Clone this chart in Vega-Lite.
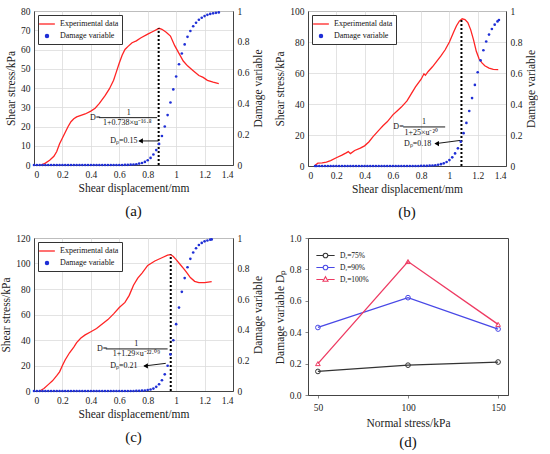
{
  "$schema": "https://vega.github.io/schema/vega-lite/v6.json",
  "background": "white",
  "padding": {"left": 0, "top": 5, "right": 0, "bottom": 0},
  "columns": 2,
  "spacing": {"column": 8, "row": 11},
  "resolve": {
    "scale": {"color": "independent", "shape": "independent"},
    "legend": {"color": "independent", "shape": "independent"}
  },
  "datasets": {
    "a_red": [
      {"x": 0.05, "y": 0}, {"x": 0.08, "y": 1}, {"x": 0.11, "y": 2.5}, {"x": 0.14, "y": 4.5},
      {"x": 0.16, "y": 7}, {"x": 0.18, "y": 11}, {"x": 0.2, "y": 14}, {"x": 0.22, "y": 17},
      {"x": 0.24, "y": 20}, {"x": 0.26, "y": 22.5}, {"x": 0.28, "y": 24}, {"x": 0.3, "y": 25},
      {"x": 0.33, "y": 25.8}, {"x": 0.36, "y": 26.5}, {"x": 0.4, "y": 28}, {"x": 0.43, "y": 29.5},
      {"x": 0.46, "y": 32}, {"x": 0.5, "y": 36}, {"x": 0.53, "y": 39.5}, {"x": 0.56, "y": 44},
      {"x": 0.58, "y": 48.5}, {"x": 0.6, "y": 53}, {"x": 0.62, "y": 57}, {"x": 0.64, "y": 60},
      {"x": 0.66, "y": 61.5}, {"x": 0.69, "y": 63.5}, {"x": 0.72, "y": 64.5}, {"x": 0.75, "y": 66},
      {"x": 0.8, "y": 68}, {"x": 0.84, "y": 69.5}, {"x": 0.88, "y": 71}, {"x": 0.9, "y": 70.5},
      {"x": 0.93, "y": 69}, {"x": 0.96, "y": 67}, {"x": 0.99, "y": 62}, {"x": 1.02, "y": 58},
      {"x": 1.05, "y": 54}, {"x": 1.08, "y": 51.5}, {"x": 1.12, "y": 49}, {"x": 1.16, "y": 46.5},
      {"x": 1.19, "y": 45.5}, {"x": 1.22, "y": 44}, {"x": 1.26, "y": 43}, {"x": 1.3, "y": 42.3}
    ],
    "a_dmg": [
      {"x": 0, "d": 0}, {"x": 0.02, "d": 0}, {"x": 0.04, "d": 0}, {"x": 0.06, "d": 0}, {"x": 0.08, "d": 0},
      {"x": 0.1, "d": 0}, {"x": 0.12, "d": 0}, {"x": 0.14, "d": 0}, {"x": 0.16, "d": 0}, {"x": 0.18, "d": 0},
      {"x": 0.2, "d": 0}, {"x": 0.22, "d": 0}, {"x": 0.24, "d": 0}, {"x": 0.26, "d": 0}, {"x": 0.28, "d": 0},
      {"x": 0.3, "d": 0}, {"x": 0.32, "d": 0}, {"x": 0.34, "d": 0}, {"x": 0.36, "d": 0}, {"x": 0.38, "d": 0},
      {"x": 0.4, "d": 0}, {"x": 0.42, "d": 0}, {"x": 0.44, "d": 0}, {"x": 0.46, "d": 0}, {"x": 0.48, "d": 0},
      {"x": 0.5, "d": 0}, {"x": 0.52, "d": 0}, {"x": 0.54, "d": 0}, {"x": 0.56, "d": 0}, {"x": 0.58, "d": 0},
      {"x": 0.6, "d": 0}, {"x": 0.62, "d": 0}, {"x": 0.64, "d": 0.001}, {"x": 0.66, "d": 0.001}, {"x": 0.68, "d": 0.002},
      {"x": 0.7, "d": 0.003}, {"x": 0.72, "d": 0.005}, {"x": 0.74, "d": 0.009}, {"x": 0.76, "d": 0.013},
      {"x": 0.78, "d": 0.02}, {"x": 0.8, "d": 0.031}, {"x": 0.82, "d": 0.046}, {"x": 0.84, "d": 0.068},
      {"x": 0.86, "d": 0.097}, {"x": 0.88, "d": 0.137}, {"x": 0.9, "d": 0.188}, {"x": 0.92, "d": 0.25},
      {"x": 0.94, "d": 0.324}, {"x": 0.96, "d": 0.406}, {"x": 0.98, "d": 0.491}, {"x": 1.0, "d": 0.575},
      {"x": 1.02, "d": 0.654}, {"x": 1.04, "d": 0.724}, {"x": 1.06, "d": 0.783}, {"x": 1.08, "d": 0.832},
      {"x": 1.1, "d": 0.87}, {"x": 1.12, "d": 0.901}, {"x": 1.14, "d": 0.924}, {"x": 1.16, "d": 0.943},
      {"x": 1.18, "d": 0.956}, {"x": 1.2, "d": 0.967}, {"x": 1.22, "d": 0.975}, {"x": 1.24, "d": 0.981},
      {"x": 1.26, "d": 0.985}, {"x": 1.28, "d": 0.988}, {"x": 1.3, "d": 0.991}
    ],
    "a_txt": [
      {"x": 0.667, "y": 27, "t": "1"},
      {"x": 0.43, "y": 24.3, "t": "D="},
      {"x": 0.656, "y": 21.8, "t": "1+0.738×u⁻¹⁶·⁸"},
      {"x": 0.633, "y": 12.5, "t": "Dₚ=0.15"}
    ],
    "a_rules": [
      {"x": 0.457, "x2": 0.866, "y": 24.6, "y2": 24.6},
      {"x": 0.74, "x2": 0.876, "y": 12.5, "y2": 12.5}
    ],
    "a_head": [{"x": 0.75, "y": 12.5}],
    "a_peak": [{"x": 0.877, "y": 0, "y2": 71}],
    "b_red": [
      {"x": 0.05, "y": 0.5}, {"x": 0.07, "y": 1.8}, {"x": 0.1, "y": 2}, {"x": 0.13, "y": 2.5},
      {"x": 0.16, "y": 3.5}, {"x": 0.2, "y": 5.3}, {"x": 0.24, "y": 7}, {"x": 0.27, "y": 8.5},
      {"x": 0.285, "y": 9.3}, {"x": 0.3, "y": 8}, {"x": 0.33, "y": 10}, {"x": 0.37, "y": 11.5},
      {"x": 0.4, "y": 13}, {"x": 0.43, "y": 15.5}, {"x": 0.46, "y": 19}, {"x": 0.5, "y": 23},
      {"x": 0.53, "y": 26}, {"x": 0.56, "y": 28.5}, {"x": 0.6, "y": 33}, {"x": 0.63, "y": 35.5},
      {"x": 0.66, "y": 38}, {"x": 0.7, "y": 42}, {"x": 0.73, "y": 46.5}, {"x": 0.76, "y": 51},
      {"x": 0.8, "y": 56}, {"x": 0.82, "y": 59.5}, {"x": 0.83, "y": 58.5}, {"x": 0.85, "y": 61},
      {"x": 0.88, "y": 64}, {"x": 0.91, "y": 67.5}, {"x": 0.94, "y": 71}, {"x": 0.97, "y": 75},
      {"x": 1.0, "y": 80}, {"x": 1.03, "y": 86.5}, {"x": 1.05, "y": 90.5}, {"x": 1.07, "y": 93.5},
      {"x": 1.09, "y": 95}, {"x": 1.11, "y": 94.5}, {"x": 1.13, "y": 92.5}, {"x": 1.15, "y": 88},
      {"x": 1.17, "y": 81.5}, {"x": 1.19, "y": 74}, {"x": 1.21, "y": 69}, {"x": 1.23, "y": 66.5},
      {"x": 1.25, "y": 64.7}, {"x": 1.28, "y": 63.2}, {"x": 1.31, "y": 62.3}, {"x": 1.345, "y": 62.2}
    ],
    "b_dmg": [
      {"x": 0.05, "d": 0}, {"x": 0.06, "d": 0}, {"x": 0.08, "d": 0}, {"x": 0.1, "d": 0}, {"x": 0.12, "d": 0},
      {"x": 0.14, "d": 0}, {"x": 0.16, "d": 0}, {"x": 0.18, "d": 0}, {"x": 0.2, "d": 0}, {"x": 0.22, "d": 0},
      {"x": 0.24, "d": 0}, {"x": 0.26, "d": 0}, {"x": 0.28, "d": 0}, {"x": 0.3, "d": 0}, {"x": 0.32, "d": 0},
      {"x": 0.34, "d": 0}, {"x": 0.36, "d": 0}, {"x": 0.38, "d": 0}, {"x": 0.4, "d": 0}, {"x": 0.42, "d": 0},
      {"x": 0.44, "d": 0}, {"x": 0.46, "d": 0}, {"x": 0.48, "d": 0}, {"x": 0.5, "d": 0}, {"x": 0.52, "d": 0},
      {"x": 0.54, "d": 0}, {"x": 0.56, "d": 0}, {"x": 0.58, "d": 0}, {"x": 0.6, "d": 0}, {"x": 0.62, "d": 0},
      {"x": 0.64, "d": 0}, {"x": 0.66, "d": 0}, {"x": 0.68, "d": 0}, {"x": 0.7, "d": 0}, {"x": 0.72, "d": 0},
      {"x": 0.74, "d": 0}, {"x": 0.76, "d": 0}, {"x": 0.78, "d": 0}, {"x": 0.8, "d": 0.001}, {"x": 0.82, "d": 0.001},
      {"x": 0.84, "d": 0.001}, {"x": 0.86, "d": 0.002}, {"x": 0.88, "d": 0.003}, {"x": 0.9, "d": 0.005},
      {"x": 0.92, "d": 0.008}, {"x": 0.94, "d": 0.012}, {"x": 0.96, "d": 0.017}, {"x": 0.98, "d": 0.026},
      {"x": 1.0, "d": 0.038}, {"x": 1.02, "d": 0.056}, {"x": 1.04, "d": 0.081}, {"x": 1.06, "d": 0.114},
      {"x": 1.08, "d": 0.157}, {"x": 1.1, "d": 0.212}, {"x": 1.12, "d": 0.278}, {"x": 1.14, "d": 0.355},
      {"x": 1.16, "d": 0.438}, {"x": 1.18, "d": 0.523}, {"x": 1.2, "d": 0.605}, {"x": 1.22, "d": 0.681},
      {"x": 1.24, "d": 0.747}, {"x": 1.26, "d": 0.803}, {"x": 1.28, "d": 0.848}, {"x": 1.3, "d": 0.884},
      {"x": 1.32, "d": 0.912}, {"x": 1.34, "d": 0.933}, {"x": 1.35, "d": 0.942}
    ],
    "b_txt": [
      {"x": 0.82, "y": 28.6, "t": "1"},
      {"x": 0.64, "y": 25.2, "t": "D="},
      {"x": 0.8, "y": 21.6, "t": "1+25×u⁻²⁰"},
      {"x": 0.775, "y": 14.4, "t": "Dₚ=0.18"}
    ],
    "b_rules": [
      {"x": 0.673, "x2": 0.97, "y": 25.2, "y2": 25.2},
      {"x": 0.9, "x2": 1.075, "y": 14.4, "y2": 16.5}
    ],
    "b_head": [{"x": 0.91, "y": 14.5}],
    "b_peak": [{"x": 1.085, "y": 0, "y2": 95}],
    "c_red": [
      {"x": 0.04, "y": 0}, {"x": 0.07, "y": 2}, {"x": 0.1, "y": 5}, {"x": 0.13, "y": 8},
      {"x": 0.16, "y": 12}, {"x": 0.18, "y": 15}, {"x": 0.2, "y": 20}, {"x": 0.22, "y": 24.5},
      {"x": 0.25, "y": 30}, {"x": 0.28, "y": 34.5}, {"x": 0.3, "y": 38}, {"x": 0.33, "y": 41.5},
      {"x": 0.36, "y": 44}, {"x": 0.4, "y": 46.5}, {"x": 0.44, "y": 49}, {"x": 0.48, "y": 52.5},
      {"x": 0.52, "y": 56}, {"x": 0.56, "y": 60.5}, {"x": 0.6, "y": 65.5}, {"x": 0.64, "y": 69.5},
      {"x": 0.67, "y": 75}, {"x": 0.7, "y": 83}, {"x": 0.73, "y": 88.5}, {"x": 0.76, "y": 92.5},
      {"x": 0.8, "y": 98.5}, {"x": 0.85, "y": 102}, {"x": 0.9, "y": 104.5}, {"x": 0.94, "y": 106.5},
      {"x": 0.96, "y": 107}, {"x": 0.98, "y": 105.5}, {"x": 1.0, "y": 103}, {"x": 1.03, "y": 99},
      {"x": 1.06, "y": 95}, {"x": 1.08, "y": 92}, {"x": 1.1, "y": 89}, {"x": 1.13, "y": 86},
      {"x": 1.16, "y": 85}, {"x": 1.2, "y": 85}, {"x": 1.25, "y": 85.8}
    ],
    "c_dmg": [
      {"x": 0, "d": 0}, {"x": 0.02, "d": 0}, {"x": 0.04, "d": 0}, {"x": 0.06, "d": 0}, {"x": 0.08, "d": 0},
      {"x": 0.1, "d": 0}, {"x": 0.12, "d": 0}, {"x": 0.14, "d": 0}, {"x": 0.16, "d": 0}, {"x": 0.18, "d": 0},
      {"x": 0.2, "d": 0}, {"x": 0.22, "d": 0}, {"x": 0.24, "d": 0}, {"x": 0.26, "d": 0}, {"x": 0.28, "d": 0},
      {"x": 0.3, "d": 0}, {"x": 0.32, "d": 0}, {"x": 0.34, "d": 0}, {"x": 0.36, "d": 0}, {"x": 0.38, "d": 0},
      {"x": 0.4, "d": 0}, {"x": 0.42, "d": 0}, {"x": 0.44, "d": 0}, {"x": 0.46, "d": 0}, {"x": 0.48, "d": 0},
      {"x": 0.5, "d": 0}, {"x": 0.52, "d": 0}, {"x": 0.54, "d": 0}, {"x": 0.56, "d": 0}, {"x": 0.58, "d": 0},
      {"x": 0.6, "d": 0}, {"x": 0.62, "d": 0}, {"x": 0.64, "d": 0}, {"x": 0.66, "d": 0}, {"x": 0.68, "d": 0},
      {"x": 0.7, "d": 0}, {"x": 0.72, "d": 0.001}, {"x": 0.74, "d": 0.001}, {"x": 0.76, "d": 0.002},
      {"x": 0.78, "d": 0.003}, {"x": 0.8, "d": 0.006}, {"x": 0.82, "d": 0.01}, {"x": 0.84, "d": 0.016},
      {"x": 0.86, "d": 0.027}, {"x": 0.88, "d": 0.044}, {"x": 0.9, "d": 0.07}, {"x": 0.92, "d": 0.109},
      {"x": 0.94, "d": 0.165}, {"x": 0.96, "d": 0.239}, {"x": 0.98, "d": 0.332}, {"x": 1.0, "d": 0.437},
      {"x": 1.02, "d": 0.545}, {"x": 1.04, "d": 0.648}, {"x": 1.06, "d": 0.738}, {"x": 1.08, "d": 0.809},
      {"x": 1.1, "d": 0.864}, {"x": 1.12, "d": 0.905}, {"x": 1.14, "d": 0.933}, {"x": 1.16, "d": 0.954},
      {"x": 1.18, "d": 0.968}, {"x": 1.2, "d": 0.978}, {"x": 1.22, "d": 0.984}, {"x": 1.24, "d": 0.989},
      {"x": 1.25, "d": 0.991}
    ],
    "c_txt": [
      {"x": 0.72, "y": 37, "t": "1"},
      {"x": 0.48, "y": 33, "t": "D="},
      {"x": 0.72, "y": 29.3, "t": "1+1.29×u⁻²²·⁰⁹"},
      {"x": 0.633, "y": 19.6, "t": "Dₚ=0.21"}
    ],
    "c_rules": [
      {"x": 0.505, "x2": 0.94, "y": 33, "y2": 33},
      {"x": 0.775, "x2": 0.927, "y": 19.6, "y2": 21.7}
    ],
    "c_head": [{"x": 0.785, "y": 19.7}],
    "c_peak": [{"x": 0.962, "y": 0, "y2": 107}],
    "d_pts": [
      {"s": 50, "d": 0.15, "g": "Dᵣ=75%"}, {"s": 100, "d": 0.19, "g": "Dᵣ=75%"}, {"s": 150, "d": 0.21, "g": "Dᵣ=75%"},
      {"s": 50, "d": 0.43, "g": "Dᵣ=90%"}, {"s": 100, "d": 0.62, "g": "Dᵣ=90%"}, {"s": 150, "d": 0.42, "g": "Dᵣ=90%"},
      {"s": 50, "d": 0.2, "g": "Dᵣ=100%"}, {"s": 100, "d": 0.85, "g": "Dᵣ=100%"}, {"s": 150, "d": 0.45, "g": "Dᵣ=100%"}
    ]
  },
  "concat": [
    {
      "width": 199,
      "height": 154,
      "title": {"text": "(a)"},
      "encoding": {
        "x": {"field": "x", "type": "quantitative", "scale": {"domain": [0, 1.4], "nice": false},
          "axis": {"title": "Shear displacement/mm", "values": [0, 0.2, 0.4, 0.6, 0.8, 1, 1.2, 1.4], "format": "~g", "grid": true, "labelOverlap": false}}
      },
      "layer": [
        {
          "encoding": {
            "y": {"field": "y", "type": "quantitative", "scale": {"domain": [0, 80], "nice": false},
              "axis": {"title": "Shear stress/kPa", "values": [0, 10, 20, 30, 40, 50, 60, 70, 80], "grid": true, "labelOverlap": false}}
          },
          "layer": [
            {
              "data": {"name": "a_red"},
              "mark": {"type": "line", "strokeWidth": 1.3},
              "encoding": {
                "color": {"datum": "Experimental data", "type": "nominal",
                  "scale": {"domain": ["Experimental data", "Damage variable"], "range": ["#ff2424", "#1f2fd6"]},
                  "legend": {"encode": {"symbols": {"update": {
                    "shape": {"signal": "datum.value === 'Damage variable' ? 'circle' : 'M-1.5,0H1.5'"},
                    "size": {"signal": "datum.value === 'Damage variable' ? 10 : 110"},
                    "fill": {"signal": "datum.value === 'Damage variable' ? '#1f2fd6' : 'transparent'"},
                    "stroke": {"signal": "datum.value === 'Damage variable' ? '#1f2fd6' : '#ff2424'"},
                    "strokeWidth": {"value": 1.3}
                  }}}}}
              }
            },
            {
              "data": {"name": "a_peak"},
              "mark": {"type": "rule", "strokeDash": [2, 2], "strokeWidth": 2, "color": "#000"},
              "encoding": {"y2": {"field": "y2"}}
            },
            {
              "data": {"name": "a_rules"},
              "mark": {"type": "rule", "strokeWidth": 0.9, "color": "#000"},
              "encoding": {"x2": {"field": "x2"}, "y2": {"field": "y2"}}
            },
            {
              "data": {"name": "a_head"},
              "mark": {"type": "point", "shape": "triangle-left", "filled": true, "size": 28, "color": "#000", "opacity": 1},
              "encoding": {}
            },
            {
              "data": {"name": "a_txt"},
              "mark": {"type": "text", "font": "Liberation Serif", "fontSize": 8, "color": "#111"},
              "encoding": {"text": {"field": "t"}}
            }
          ]
        },
        {
          "data": {"name": "a_dmg"},
          "mark": {"type": "circle", "size": 7, "color": "#1f2fd6", "opacity": 1},
          "encoding": {
            "y": {"field": "d", "type": "quantitative", "scale": {"domain": [0, 1], "nice": false},
              "axis": {"orient": "right", "title": "Damage variable", "titleAngle": -90, "titleBaseline": "top", "values": [0, 0.2, 0.4, 0.6, 0.8, 1], "format": "~g", "grid": false, "labelOverlap": false}}
          }
        }
      ],
      "resolve": {"scale": {"y": "independent"}}
    },
    {
      "width": 198,
      "height": 155,
      "title": {"text": "(b)"},
      "encoding": {
        "x": {"field": "x", "type": "quantitative", "scale": {"domain": [0, 1.4], "nice": false},
          "axis": {"title": "Shear displacement/mm", "values": [0, 0.2, 0.4, 0.6, 0.8, 1, 1.2, 1.4], "format": "~g", "grid": true, "labelOverlap": false}}
      },
      "layer": [
        {
          "encoding": {
            "y": {"field": "y", "type": "quantitative", "scale": {"domain": [0, 100], "nice": false},
              "axis": {"title": "Shear stress/kPa", "values": [0, 20, 40, 60, 80, 100], "grid": true, "labelOverlap": false}}
          },
          "layer": [
            {
              "data": {"name": "b_red"},
              "mark": {"type": "line", "strokeWidth": 1.3},
              "encoding": {
                "color": {"datum": "Experimental data", "type": "nominal",
                  "scale": {"domain": ["Experimental data", "Damage variable"], "range": ["#ff2424", "#1f2fd6"]},
                  "legend": {"encode": {"symbols": {"update": {
                    "shape": {"signal": "datum.value === 'Damage variable' ? 'circle' : 'M-1.5,0H1.5'"},
                    "size": {"signal": "datum.value === 'Damage variable' ? 10 : 110"},
                    "fill": {"signal": "datum.value === 'Damage variable' ? '#1f2fd6' : 'transparent'"},
                    "stroke": {"signal": "datum.value === 'Damage variable' ? '#1f2fd6' : '#ff2424'"},
                    "strokeWidth": {"value": 1.3}
                  }}}}}
              }
            },
            {
              "data": {"name": "b_peak"},
              "mark": {"type": "rule", "strokeDash": [2, 2], "strokeWidth": 2, "color": "#000"},
              "encoding": {"y2": {"field": "y2"}}
            },
            {
              "data": {"name": "b_rules"},
              "mark": {"type": "rule", "strokeWidth": 0.9, "color": "#000"},
              "encoding": {"x2": {"field": "x2"}, "y2": {"field": "y2"}}
            },
            {
              "data": {"name": "b_head"},
              "mark": {"type": "point", "shape": "triangle-left", "filled": true, "size": 28, "color": "#000", "opacity": 1},
              "encoding": {}
            },
            {
              "data": {"name": "b_txt"},
              "mark": {"type": "text", "font": "Liberation Serif", "fontSize": 8, "color": "#111"},
              "encoding": {"text": {"field": "t"}}
            }
          ]
        },
        {
          "data": {"name": "b_dmg"},
          "mark": {"type": "circle", "size": 7, "color": "#1f2fd6", "opacity": 1},
          "encoding": {
            "y": {"field": "d", "type": "quantitative", "scale": {"domain": [0, 1], "nice": false},
              "axis": {"orient": "right", "title": "Damage variable", "titleAngle": -90, "titleBaseline": "top", "values": [0, 0.2, 0.4, 0.6, 0.8, 1], "format": "~g", "grid": false, "labelOverlap": false}}
          }
        }
      ],
      "resolve": {"scale": {"y": "independent"}}
    },
    {
      "width": 199,
      "height": 153,
      "title": {"text": "(c)"},
      "encoding": {
        "x": {"field": "x", "type": "quantitative", "scale": {"domain": [0, 1.4], "nice": false},
          "axis": {"title": "Shear displacement/mm", "values": [0, 0.2, 0.4, 0.6, 0.8, 1, 1.2, 1.4], "format": "~g", "grid": true, "labelOverlap": false}}
      },
      "layer": [
        {
          "encoding": {
            "y": {"field": "y", "type": "quantitative", "scale": {"domain": [0, 120], "nice": false},
              "axis": {"title": "Shear stress/kPa", "values": [0, 20, 40, 60, 80, 100, 120], "grid": true, "labelOverlap": false}}
          },
          "layer": [
            {
              "data": {"name": "c_red"},
              "mark": {"type": "line", "strokeWidth": 1.3},
              "encoding": {
                "color": {"datum": "Experimental data", "type": "nominal",
                  "scale": {"domain": ["Experimental data", "Damage variable"], "range": ["#ff2424", "#1f2fd6"]},
                  "legend": {"encode": {"symbols": {"update": {
                    "shape": {"signal": "datum.value === 'Damage variable' ? 'circle' : 'M-1.5,0H1.5'"},
                    "size": {"signal": "datum.value === 'Damage variable' ? 10 : 110"},
                    "fill": {"signal": "datum.value === 'Damage variable' ? '#1f2fd6' : 'transparent'"},
                    "stroke": {"signal": "datum.value === 'Damage variable' ? '#1f2fd6' : '#ff2424'"},
                    "strokeWidth": {"value": 1.3}
                  }}}}}
              }
            },
            {
              "data": {"name": "c_peak"},
              "mark": {"type": "rule", "strokeDash": [2, 2], "strokeWidth": 2, "color": "#000"},
              "encoding": {"y2": {"field": "y2"}}
            },
            {
              "data": {"name": "c_rules"},
              "mark": {"type": "rule", "strokeWidth": 0.9, "color": "#000"},
              "encoding": {"x2": {"field": "x2"}, "y2": {"field": "y2"}}
            },
            {
              "data": {"name": "c_head"},
              "mark": {"type": "point", "shape": "triangle-left", "filled": true, "size": 28, "color": "#000", "opacity": 1},
              "encoding": {}
            },
            {
              "data": {"name": "c_txt"},
              "mark": {"type": "text", "font": "Liberation Serif", "fontSize": 8, "color": "#111"},
              "encoding": {"text": {"field": "t"}}
            }
          ]
        },
        {
          "data": {"name": "c_dmg"},
          "mark": {"type": "circle", "size": 7, "color": "#1f2fd6", "opacity": 1},
          "encoding": {
            "y": {"field": "d", "type": "quantitative", "scale": {"domain": [0, 1], "nice": false},
              "axis": {"orient": "right", "title": "Damage variable", "titleAngle": -90, "titleBaseline": "top", "values": [0, 0.2, 0.4, 0.6, 0.8, 1], "format": "~g", "grid": false, "labelOverlap": false}}
          }
        }
      ],
      "resolve": {"scale": {"y": "independent"}}
    },
    {
      "width": 200,
      "height": 157,
      "title": {"text": "(d)", "offset": 6},
      "data": {"name": "d_pts"},
      "encoding": {
        "x": {"field": "s", "type": "quantitative", "scale": {"domain": [44.5, 155.5], "nice": false},
          "axis": {"title": "Normal stress/kPa", "values": [50, 100, 150], "grid": false, "ticks": true, "tickSize": 3, "titlePadding": 6, "labelOverlap": false}},
        "y": {"field": "d", "type": "quantitative", "scale": {"domain": [0, 1], "nice": false},
          "axis": {"title": "Damage variable Dₚ", "values": [0, 0.2, 0.4, 0.6, 0.8, 1], "format": ".1f", "grid": false, "ticks": true, "tickSize": 3, "labelOverlap": false}},
        "color": {"field": "g", "type": "nominal",
          "scale": {"domain": ["Dᵣ=75%", "Dᵣ=90%", "Dᵣ=100%"], "range": ["#333333", "#4848e6", "#ee3a62"]},
          "legend": {"strokeColor": "transparent", "fillColor": "transparent", "offset": 8, "labelFontSize": 7.5, "rowPadding": 1, "labelOffset": 8,
            "encode": {"symbols": {"update": {
              "shape": {"signal": "datum.value === 'Dᵣ=100%' ? 'M-1.6,0H-0.42M0.42,0H1.6M0,-0.48L0.44,0.32L-0.44,0.32Z' : 'M-1.6,0H-0.4M0.4,0H1.6M0.4,0A0.4,0.4 0 1,1 -0.4,0A0.4,0.4 0 1,1 0.4,0'"},
              "size": {"value": 130},
              "fill": {"value": "transparent"},
              "stroke": {"signal": "datum.value === 'Dᵣ=100%' ? '#ee3a62' : datum.value === 'Dᵣ=90%' ? '#4848e6' : '#333333'"},
              "strokeWidth": {"value": 1.1}
            }}}}}
      },
      "layer": [
        {"mark": {"type": "line", "strokeWidth": 1.3}},
        {
          "transform": [{"filter": "datum.g !== 'Dᵣ=100%'"}],
          "mark": {"type": "point", "shape": "circle", "filled": false, "size": 22, "strokeWidth": 1, "opacity": 1}
        },
        {
          "transform": [{"filter": "datum.g === 'Dᵣ=100%'"}],
          "mark": {"type": "point", "shape": "triangle-up", "filled": false, "size": 22, "strokeWidth": 1, "opacity": 1}
        }
      ]
    }
  ],
  "config": {
    "font": "Liberation Serif",
    "view": {"stroke": "#444", "strokeWidth": 1},
    "axis": {
      "labelFont": "Liberation Serif", "titleFont": "Liberation Serif",
      "labelFontSize": 9.5, "titleFontSize": 11.5, "titleFontWeight": "normal",
      "labelColor": "#222", "titleColor": "#222", "domainColor": "#444",
      "ticks": false, "labelPadding": 4, "titlePadding": 4, "labelOverlap": false,
      "gridColor": "#dcdcdc", "gridWidth": 0.8
    },
    "legend": {
      "orient": "top-left", "offset": 4, "title": null, "strokeColor": "#333", "fillColor": "white",
      "padding": 3, "labelFont": "Liberation Serif", "labelFontSize": 8, "labelColor": "#111",
      "symbolStrokeWidth": 1.3, "rowPadding": 2, "labelOffset": 7
    },
    "title": {"font": "Liberation Serif", "fontSize": 15, "fontWeight": "normal", "orient": "bottom", "frame": "group", "offset": 10, "color": "#111"}
  }
}
